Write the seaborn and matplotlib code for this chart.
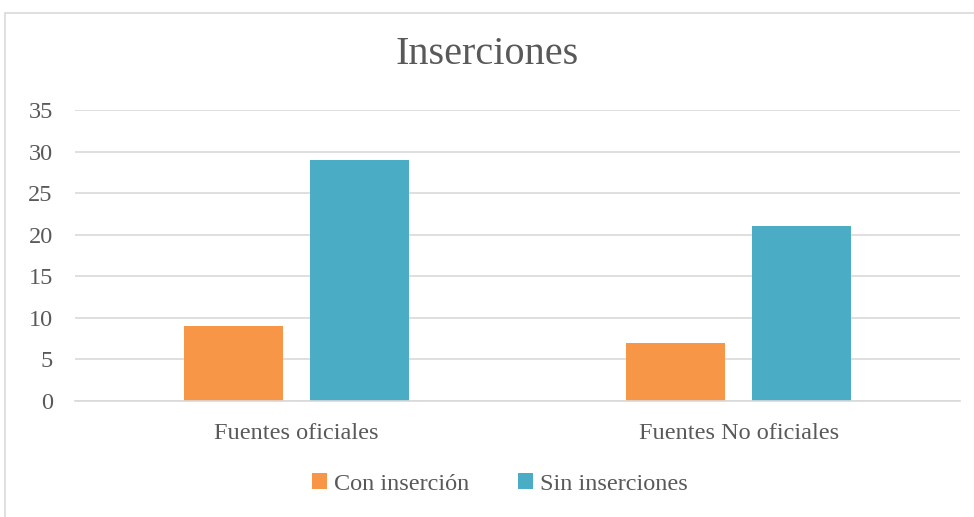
import numpy as np
import pandas as pd
import seaborn as sns
import matplotlib.pyplot as plt
from matplotlib.patches import Rectangle

categories = ["Fuentes oficiales", "Fuentes No oficiales"]
series = ["Con inserción", "Sin inserciones"]
con_insercion = [9, 7]
sin_inserciones = [29, 21]
yticks = [0, 5, 10, 15, 20, 25, 30, 35]

colors = ["#F79646", "#4BACC6"]
text_color = "#595959"
grid_color = "#D9D9D9"

df = pd.DataFrame({
    "categoria": categories * 2,
    "serie": [series[0]] * 2 + [series[1]] * 2,
    "valor": con_insercion + sin_inserciones,
})

sns.set_theme(style="white")
plt.rcParams["font.family"] = ["Liberation Serif", "DejaVu Serif"]

fig = plt.figure(figsize=(9.74, 5.17), dpi=100)
ax = fig.add_axes([0.077, 0.2244, 0.9086, 0.5628])

sns.barplot(data=df, x="categoria", y="valor", hue="serie", palette=colors,
            width=0.57, gap=0.215, ax=ax, legend=True, saturation=1,
            linewidth=0)

ax.set_xlim(-0.5, 1.5)
ax.set_ylim(0, 35)
ax.set_yticks(yticks)
ax.yaxis.grid(True, color=grid_color, linewidth=1.2)
ax.set_axisbelow(True)
for s in ["top", "right", "left"]:
    ax.spines[s].set_visible(False)
ax.spines["bottom"].set_color(grid_color)
ax.spines["bottom"].set_linewidth(1.2)
ax.tick_params(axis="y", length=0, pad=16, labelsize=17.5, labelcolor=text_color)
ax.tick_params(axis="x", length=0, pad=16, labelsize=17.5, labelcolor=text_color)
ax.set_xlabel("")
ax.set_ylabel("")

handles, labels = ax.get_legend_handles_labels()
ax.get_legend().remove()
fig.legend(handles, labels, loc="center", bbox_to_anchor=(500 / 974, 1 - 484 / 517),
           ncol=2, frameon=False, fontsize=17.5, labelcolor=text_color,
           handlelength=0.6, handleheight=0.6, handletextpad=0.3, columnspacing=2.0)

fig.text(487 / 974, 1 - 54 / 517, "Inserciones", ha="center", va="center",
         fontsize=29, color=text_color)

fig.patches.append(Rectangle((5 / 974, -0.1), 1.2, 1 - 13 / 517 + 0.1,
                             transform=fig.transFigure, fill=False,
                             edgecolor=grid_color, linewidth=1.2))

fig.savefig("out.png", dpi=100)
